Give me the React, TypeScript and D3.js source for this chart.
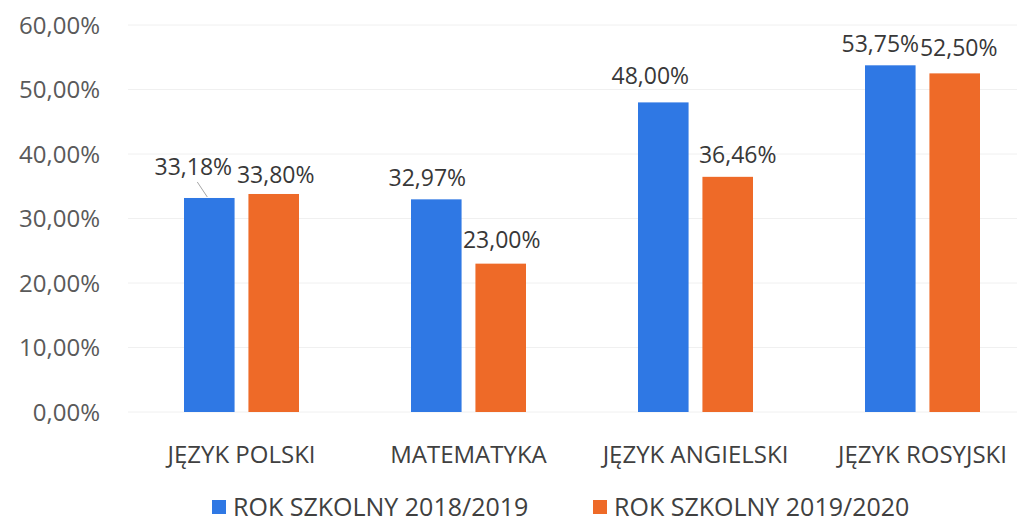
import React, { useEffect, useRef } from 'react';
import * as d3 from 'd3';

// chart values
const subjects = ['JĘZYK POLSKI', 'MATEMATYKA', 'JĘZYK ANGIELSKI', 'JĘZYK ROSYJSKI'];
const seriesNames = ['ROK SZKOLNY 2018/2019', 'ROK SZKOLNY 2019/2020'];
const year2018 = [33.18, 32.97, 48.0, 53.75];
const year2019 = [33.8, 23.0, 36.46, 52.5];
const yTicks = [0, 10, 20, 30, 40, 50, 60];

const colors = ['#2F78E4', '#EE6A28'];

// hand placed data labels (dx, dy from bar top to label centre), like in the original
const labelNudge = [
  [[-16, -31], [2, -19]],
  [[-9, -22], [1, -24]],
  [[-13, -27], [10, -22]],
  [[-10, -22], [4, -26]],
];

const W = 1017;
const H = 522;
const fmt = (v: number) => v.toFixed(2).replace('.', ',') + '%';

function App() {
  const svgRef = useRef<SVGSVGElement>(null);

  useEffect(() => {
    const svg = d3.select(svgRef.current);
    svg.selectAll('*').remove();

    const font = "'Open Sans', 'Noto Sans', sans-serif";

    var y = d3.scaleLinear().domain([0, 60]).range([412, 25]);
    var x0 = d3.scaleBand().domain(subjects).range([128, 1036]);
    var x1 = d3
      .scaleBand()
      .domain(seriesNames)
      .range([56, 171])
      .paddingInner(0.215);

    // faint gridlines (scan is washed out)
    svg
      .append('g')
      .selectAll('line')
      .data(yTicks)
      .enter()
      .append('line')
      .attr('x1', 128)
      .attr('x2', W)
      .attr('y1', d => y(d))
      .attr('y2', d => y(d))
      .attr('stroke', '#f0f0f0')
      .attr('stroke-width', 1);

    // y axis labels
    svg
      .append('g')
      .selectAll('text')
      .data(yTicks)
      .enter()
      .append('text')
      .attr('x', 100)
      .attr('y', d => y(d))
      .attr('dy', '0.36em')
      .attr('text-anchor', 'end')
      .style('font-family', font)
      .style('font-size', '24px')
      .style('fill', '#5a5a5a')
      .text(d => d.toFixed(2).replace('.', ',') + '%');

    const rows = subjects.map((s, i) => ({
      subject: s,
      i,
      values: [year2018[i], year2019[i]],
    }));

    const groups = svg
      .append('g')
      .selectAll('g')
      .data(rows)
      .enter()
      .append('g')
      .attr('transform', d => 'translate(' + x0(d.subject) + ',0)');

    groups
      .selectAll('rect')
      .data(d => d.values.map((v, k) => ({ v, k, i: d.i })))
      .enter()
      .append('rect')
      .attr('x', d => x1(seriesNames[d.k]) as number)
      .attr('y', d => y(d.v))
      .attr('width', x1.bandwidth())
      .attr('height', d => y(0) - y(d.v))
      .attr('fill', d => colors[d.k]);

    // data labels
    groups
      .selectAll('text.val')
      .data(d => d.values.map((v, k) => ({ v, k, i: d.i })))
      .enter()
      .append('text')
      .attr('class', 'val')
      .attr('x', d => (x1(seriesNames[d.k]) as number) + x1.bandwidth() / 2 + labelNudge[d.i][d.k][0])
      .attr('y', d => y(d.v) + labelNudge[d.i][d.k][1])
      .attr('dy', '0.36em')
      .attr('text-anchor', 'middle')
      .style('font-family', font)
      .style('font-size', '23px')
      .style('fill', '#383838')
      .text(d => fmt(d.v));

    // leader line for the first label that was moved away
    const lx = (x0(subjects[0]) as number) + (x1(seriesNames[0]) as number) + x1.bandwidth() / 2;
    svg
      .append('line')
      .attr('x1', lx - 12)
      .attr('y1', y(year2018[0]) - 16)
      .attr('x2', lx - 2)
      .attr('y2', y(year2018[0]) - 1)
      .attr('stroke', '#a6a6a6')
      .attr('stroke-width', 1);

    // category labels
    svg
      .append('g')
      .selectAll('text')
      .data(subjects)
      .enter()
      .append('text')
      .attr('x', d => (x0(d) as number) + x0.bandwidth() / 2)
      .attr('y', 454)
      .attr('dy', '0.36em')
      .attr('text-anchor', 'middle')
      .style('font-family', font)
      .style('font-size', '24px')
      .style('fill', '#404040')
      .text(d => d);

    // legend
    const legendX = [212, 593];
    const legendY = 507;
    seriesNames.forEach((name, k) => {
      svg
        .append('rect')
        .attr('x', legendX[k])
        .attr('y', legendY - 7)
        .attr('width', 14)
        .attr('height', 14)
        .attr('fill', colors[k]);
      svg
        .append('text')
        .attr('x', legendX[k] + 21)
        .attr('y', legendY)
        .attr('dy', '0.36em')
        .style('font-family', font)
        .style('font-size', '25px')
        .style('fill', '#404040')
        .text(name);
    });
  }, []);

  return (
    <svg
      ref={svgRef}
      width={W}
      height={H}
      style={{ position: 'absolute', left: 0, top: 0, background: '#fff' }}
    />
  );
}

export default App;
